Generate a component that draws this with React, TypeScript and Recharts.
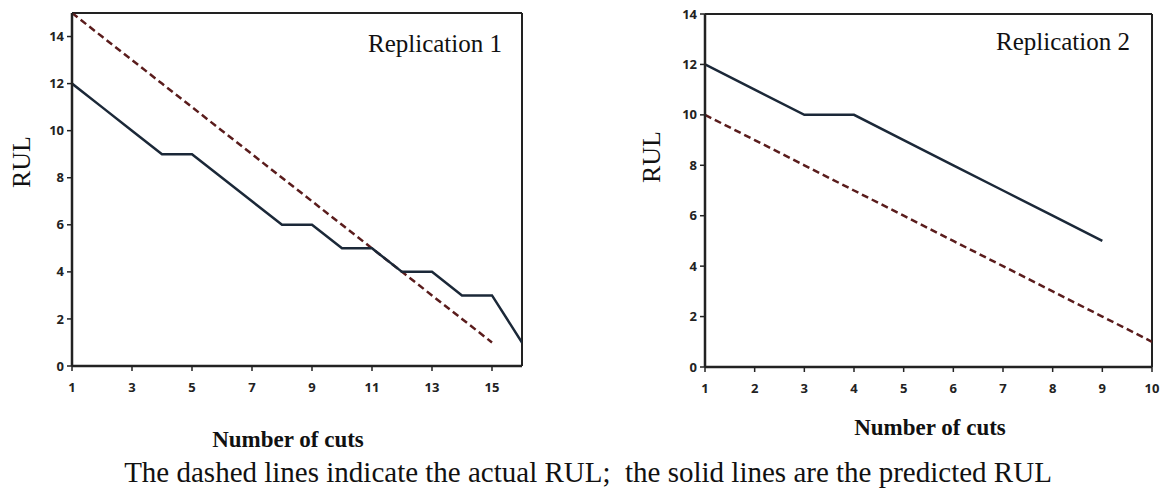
import React from "react";
import { LineChart, Line, XAxis, YAxis, ReferenceLine } from "recharts";

// Replication 1
const rep1Cuts = [1, 2, 3, 4, 5, 6, 7, 8, 9, 10, 11, 12, 13, 14, 15, 16];
const rep1Predicted = [12, 11, 10, 9, 9, 8, 7, 6, 6, 5, 5, 4, 4, 3, 3, 1];
const rep1Actual = [15, 14, 13, 12, 11, 10, 9, 8, 7, 6, 5, 4, 3, 2, 1, null];
const rep1XTicks = [1, 3, 5, 7, 9, 11, 13, 15];
const rep1YTicks = [0, 2, 4, 6, 8, 10, 12, 14];

// Replication 2
const rep2Cuts = [1, 2, 3, 4, 5, 6, 7, 8, 9, 10];
const rep2Predicted = [12, 11, 10, 10, 9, 8, 7, 6, 5, null];
const rep2Actual = [10, 9, 8, 7, 6, 5, 4, 3, 2, 1];
const rep2XTicks = [1, 2, 3, 4, 5, 6, 7, 8, 9, 10];
const rep2YTicks = [0, 2, 4, 6, 8, 10, 12, 14];

const build = (cuts: number[], pred: (number | null)[], act: (number | null)[]) =>
  cuts.map((c, i) => ({ cut: c, predicted: pred[i], actual: act[i] }));

const rep1Data = build(rep1Cuts, rep1Predicted, rep1Actual);
const rep2Data = build(rep2Cuts, rep2Predicted, rep2Actual);

const AXIS = "#222222";
const SOLID = "#1b2838";
const DASHED = "#5a1c1c";
const tickStyle = { fontFamily: "'Open Sans', sans-serif", fontWeight: 700, fontSize: 13, fill: "#222" };
const serif = "'Liberation Serif', 'Times New Roman', serif";

type PanelProps = {
  data: any[];
  xTicks: number[];
  yTicks: number[];
  xMax: number;
  yMax: number;
  width: number;
  margin: { top: number; right: number; left: number; bottom: number };
};

function Panel({ data, xTicks, yTicks, xMax, yMax, width, margin }: PanelProps) {
  return (
    <LineChart width={width} height={400} data={data} margin={margin}>
      <XAxis
        dataKey="cut"
        type="number"
        domain={[1, xMax]}
        ticks={xTicks}
        interval={0}
        allowDataOverflow
        stroke={AXIS}
        strokeWidth={2.5}
        tickSize={5}
        tickMargin={12}
        tick={tickStyle}
        tickLine={{ stroke: AXIS, strokeWidth: 1.5 }}
        height={30}
      />
      <YAxis
        type="number"
        domain={[0, yMax]}
        ticks={yTicks}
        interval={0}
        allowDataOverflow
        stroke={AXIS}
        strokeWidth={2.5}
        tickSize={5}
        tickMargin={3}
        tick={tickStyle}
        tickLine={{ stroke: AXIS, strokeWidth: 1.5 }}
        width={40}
      />
      <ReferenceLine y={yMax} stroke={AXIS} strokeWidth={2} ifOverflow="visible" />
      <ReferenceLine x={xMax} stroke={AXIS} strokeWidth={2} ifOverflow="visible" />
      <Line
        dataKey="actual"
        stroke={DASHED}
        strokeWidth={2.5}
        strokeDasharray="7 4"
        dot={false}
        activeDot={false}
        connectNulls={false}
        isAnimationActive={false}
      />
      <Line
        dataKey="predicted"
        stroke={SOLID}
        strokeWidth={2.5}
        dot={false}
        activeDot={false}
        connectNulls={false}
        isAnimationActive={false}
      />
    </LineChart>
  );
}

export default function App() {
  return (
    <div style={{ position: "absolute", left: 0, top: 0, width: 1163, height: 489, background: "#fff", overflow: "hidden" }}>
      <div style={{ position: "absolute", left: 0, top: 0 }}>
        <Panel
          data={rep1Data}
          xTicks={rep1XTicks}
          yTicks={rep1YTicks}
          xMax={16}
          yMax={15}
          width={540}
          margin={{ top: 13, right: 18, left: 32, bottom: 4 }}
        />
      </div>
      <div style={{ position: "absolute", left: 600, top: 0 }}>
        <Panel
          data={rep2Data}
          xTicks={rep2XTicks}
          yTicks={rep2YTicks}
          xMax={10}
          yMax={14}
          width={563}
          margin={{ top: 14, right: 11, left: 65, bottom: 3 }}
        />
      </div>
      <svg width={1163} height={489} style={{ position: "absolute", left: 0, top: 0, pointerEvents: "none" }}>
        <g fontFamily={serif} fill="#111">
          <text x={502} y={52} fontSize={25} textAnchor="end">Replication 1</text>
          <text x={1130} y={50} fontSize={25} textAnchor="end">Replication 2</text>
          <text x={30} y={162} fontSize={26} textAnchor="middle" transform="rotate(-90 30 162)">RUL</text>
          <text x={660} y={157} fontSize={26} textAnchor="middle" transform="rotate(-90 660 157)">RUL</text>
          <text x={288} y={447} fontSize={23} fontWeight={700} textAnchor="middle">Number of cuts</text>
          <text x={930} y={435} fontSize={23} fontWeight={700} textAnchor="middle">Number of cuts</text>
          <text x={588} y={482} fontSize={29} textAnchor="middle" xmlSpace="preserve">The dashed lines indicate the actual RUL;  the solid lines are the predicted RUL</text>
        </g>
      </svg>
    </div>
  );
}
